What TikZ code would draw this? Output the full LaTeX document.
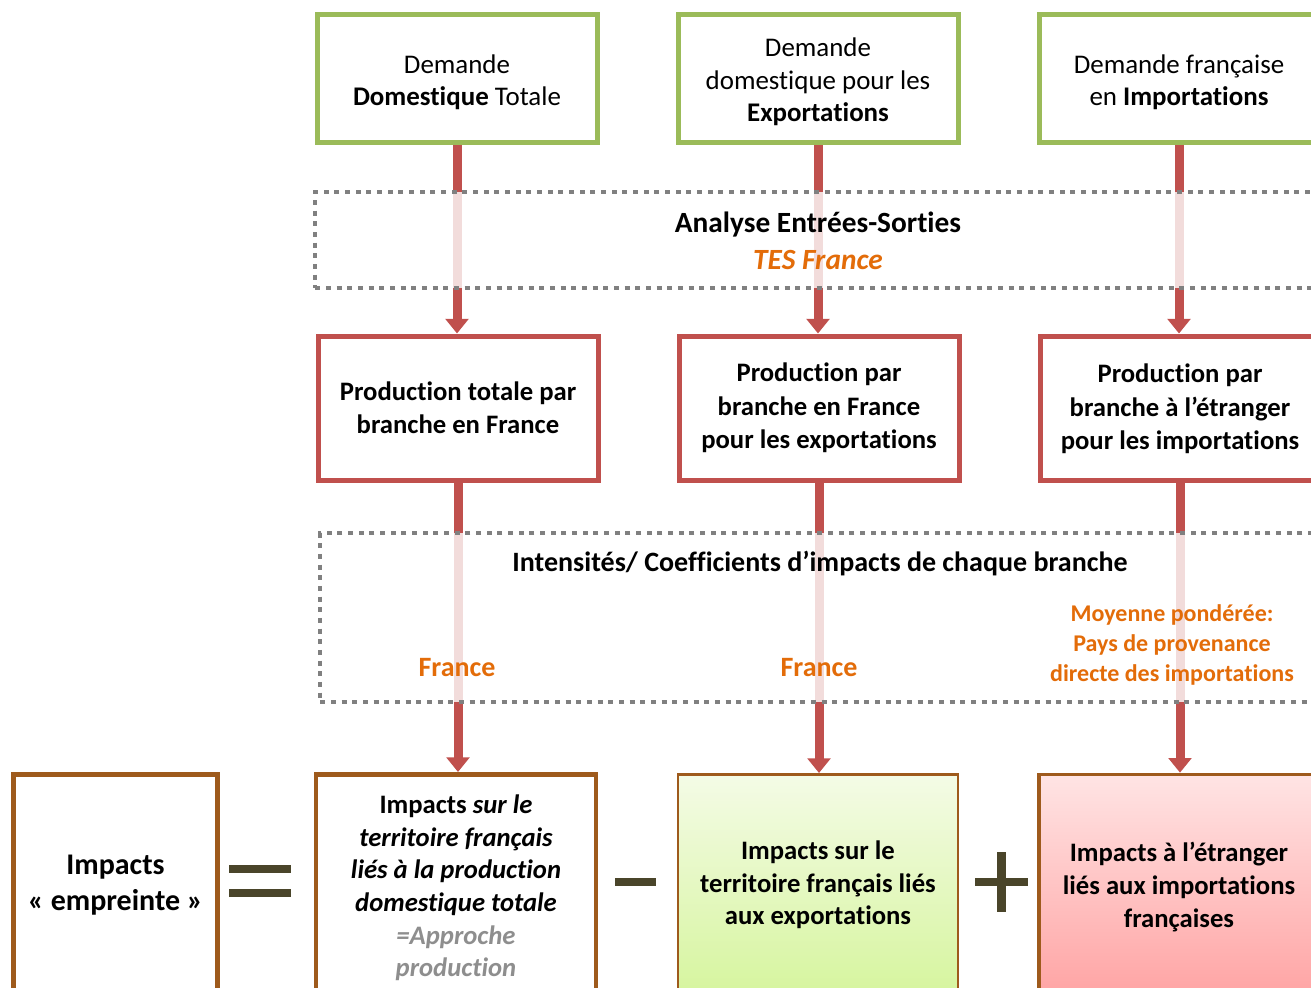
\documentclass[tikz,border=0pt]{standalone}
\usepackage{fontspec}
\setmainfont{Carlito}[Ligatures=NoCommon]
\usetikzlibrary{arrows.meta}
\definecolor{grn}{HTML}{9BBB59}
\definecolor{rd}{HTML}{C0504D}
\definecolor{brn}{HTML}{9E5A1C}
\definecolor{dgray}{HTML}{808080}
\definecolor{orng}{HTML}{E36C09}
\definecolor{gry}{HTML}{8E8E8E}
\definecolor{opc}{HTML}{4A452A}
\definecolor{gtop}{HTML}{F4FBE6}
\definecolor{gbot}{HTML}{D6F59E}
\definecolor{rtop}{HTML}{FFE4E4}
\definecolor{rbot}{HTML}{FFA4A4}
\tikzset{
  txt/.style={font=\fontsize{20.2}{24.2}\selectfont, align=center, inner sep=0pt},
  gbox/.style={txt, draw=grn, line width=3.75pt, fill=white, minimum width=210pt, minimum height=96pt},
  rbox/.style={txt, font=\fontsize{20}{25}\selectfont\bfseries, draw=rd, line width=3.75pt, fill=white, minimum width=210pt, minimum height=108pt},
  bbox/.style={txt, font=\fontsize{20}{24.4}\selectfont\bfseries, draw=brn, line width=3.5pt, fill=white, minimum width=210pt, minimum height=166pt},
  conn/.style={draw=rd, line width=6.75pt, -{Triangle[width=17pt,length=11pt]}},
  dotbox/.style={draw=dgray, line width=3pt, dash pattern=on 3.75pt off 4.25pt, fill=white, fill opacity=0.8, inner sep=0pt},
  otxt/.style={txt, text=orng, font=\fontsize{21}{24}\selectfont\bfseries},
}
\begin{document}
\begin{tikzpicture}[x=0.75pt,y=-0.75pt]
\useasboundingbox (0,0) rectangle (1311,988);
\clip (0,0) rectangle (1311,988);
% top demand boxes
\node[gbox] (g1) at (457,79) {};
\node[txt] (g1t) at (457,82) {Demande\\\textbf{Domestique} Totale};
\node[gbox] (g2) at (818,79) {};
\node[txt] (g2t) at (818,82) {Demande\\domestique pour les\\\textbf{Exportations}};
\node[gbox] (g3) at (1179,79) {};
\node[txt] (g3t) at (1179,82) {Demande française\\en \textbf{Importations}};
% production boxes
\node[rbox] (r1) at (458,408) {Production totale par\\branche en France};
\node[rbox] (r2) at (819,408) {Production par\\branche en France\\pour les exportations};
\node[rbox] (r3) at (1180,408) {};
\node[txt, font=\fontsize{20}{25}\selectfont\bfseries] (r3t) at (1180,409) {Production par\\branche à l’étranger\\pour les importations};
% impact boxes
\node[bbox, font=\fontsize{22.5}{27}\selectfont\bfseries, minimum width=153pt] (b0) at (115.5,885) {Impacts\\« empreinte »};
\node[bbox] (b1) at (456,885) {};
\node[txt, font=\fontsize{20}{24.4}\selectfont\bfseries] (b1t) at (456,888) {Impacts \textit{sur le}\\\textit{territoire français}\\\textit{liés à la production}\\\textit{domestique totale}\\\textcolor{gry}{\textit{=Approche}}\\\textcolor{gry}{\textit{production}}};
\node[bbox, line width=2pt, top color=gtop, bottom color=gbot] (b2) at (818,885) {Impacts sur le\\territoire français liés\\aux exportations};
\node[bbox, line width=2.5pt, top color=rtop, bottom color=rbot] (b3) at (1179,885) {};
\node[txt, font=\fontsize{20}{24.4}\selectfont\bfseries] (b3t) at (1179,887) {Impacts à l’étranger\\liés aux importations\\françaises};
% connectors
\draw[conn] (g1.south) -- (g1.south |- r1.north);
\draw[conn] (g2.south) -- (g2.south |- r2.north);
\draw[conn] (g3.south) -- (g3.south |- r3.north);
\draw[conn] (r1.south) -- (r1.south |- b1.north);
\draw[conn] (r2.south) -- (r2.south |- b2.north);
\draw[conn] (r3.south) -- (r3.south |- b3.north);
% dotted analysis boxes
\node[dotbox, minimum width=761pt, minimum height=72pt] (d1) at (822.5,240) {};
\node[dotbox, minimum width=757pt, minimum height=126.5pt] (d2) at (825,617.5) {};
% texts in analysis boxes
\node[txt, font=\fontsize{22}{24}\selectfont\bfseries] (a1) at (818,225) {Analyse Entrées-Sorties};
\node[otxt, font=\fontsize{22}{24}\selectfont\bfseries\itshape] (a2) at (818,260) {TES France};
\node[txt, font=\fontsize{21}{24}\selectfont\bfseries] (i1) at (820,564) {Intensités/ Coefficients d’impacts de chaque branche};
\node[otxt] (f1) at (457,668) {France};
\node[otxt] (f2) at (819,668) {France};
\node[otxt, font=\fontsize{18}{22.2}\selectfont\bfseries] (m1) at (1172,645) {Moyenne pondérée:\\Pays de provenance\\directe des importations};
% operators
\fill[opc] (229,865) rectangle (291,873);
\fill[opc] (229,889) rectangle (291,897);
\fill[opc] (615,878) rectangle (656,886);
\fill[opc] (975,878) rectangle (1028,886);
\fill[opc] (997,852) rectangle (1006,912);
\end{tikzpicture}
\end{document}
